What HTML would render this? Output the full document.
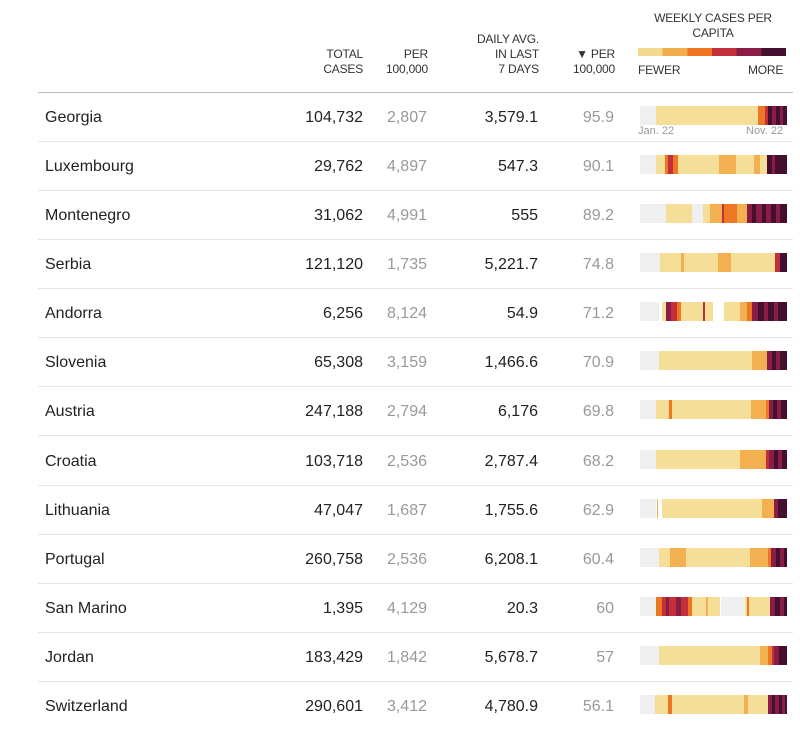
<!DOCTYPE html>
<html><head><meta charset="utf-8"><style>
body{margin:0;width:800px;height:731px;background:#fff;font-family:"Liberation Sans",Arial,sans-serif;position:relative;overflow:hidden}
.a{position:absolute}
.h{position:absolute;font-size:12px;line-height:15px;color:#333;text-align:right;letter-spacing:-0.2px}
.n{position:absolute;font-size:16px;color:#222;text-align:right;width:120px}
.g{color:#999}
.c{position:absolute;left:45px;font-size:16px;color:#222}
.ln{position:absolute;left:38px;width:755px;height:1px;background:#e6e6e6}
</style></head><body>
<div class="h" style="right:437px;top:47px">TOTAL<br>CASES</div>
<div class="h" style="right:372px;top:47px">PER<br>100,000</div>
<div class="h" style="right:261px;top:32px">DAILY AVG.<br>IN LAST<br>7 DAYS</div>
<div class="h" style="right:185px;top:47px">▼ PER<br>100,000</div>
<div class="h" style="left:632px;width:162px;text-align:center;top:11px;line-height:15px">WEEKLY CASES PER<br>CAPITA</div>
<div class="a" style="left:638px;top:48px;width:148px;height:8px;background:linear-gradient(90deg,#f3d98d 0 16.6%,#f2ad4c 16.6% 33.3%,#ee7422 33.3% 50%,#c3303c 50% 66.6%,#8a1d45 66.6% 83.3%,#45102f 83.3%)"></div>
<div class="h" style="left:638px;top:63px;text-align:left">FEWER</div>
<div class="h" style="left:748px;top:63px">MORE</div>
<div class="a" style="left:38px;top:92px;width:755px;height:1px;background:#bbb"></div>
<div class="a" style="left:638px;top:125px;font-size:11px;color:#999">Jan. 22</div>
<div class="a" style="left:746px;top:125px;font-size:11px;color:#999">Nov. 22</div>
<div id="rows"></div>
<script>
var Y='#f5de98',O='#f2b050',R='#ee7724',D='#c3303c',M='#8a1d45',P='#45102f',G='#efefef',W='#fff';
var rows=[
["Georgia","104,732","2,807","3,579.1","95.9",[[640,G],[656,Y],[758,R],[765,D],[768,P],[772,M],[776,P],[780,M],[783,P]]],
["Luxembourg","29,762","4,897","547.3","90.1",[[640,G],[656,Y],[665,R],[668,D],[673,R],[678,Y],[719,O],[736,Y],[754,O],[760,Y],[767,P],[772,M],[775,P]]],
["Montenegro","31,062","4,991","555","89.2",[[640,G],[666,Y],[692,G],[703,Y],[710,O],[722,D],[724,R],[737,O],[747,M],[752,P],[756,M],[762,P],[766,M],[771,P],[776,M],[780,P]]],
["Serbia","121,120","1,735","5,221.7","74.8",[[640,G],[660,Y],[681,O],[684,Y],[718,O],[731,Y],[775,D],[780,P]]],
["Andorra","6,256","8,124","54.9","71.2",[[640,G],[659,W],[662,Y],[666,M],[671,D],[677,R],[681,Y],[703,D],[705,Y],[713,W],[724,Y],[740,O],[747,R],[752,M],[758,P],[764,M],[768,P],[774,M],[778,P]]],
["Slovenia","65,308","3,159","1,466.6","70.9",[[640,G],[659,Y],[752,O],[767,M],[772,P],[776,M],[780,P]]],
["Austria","247,188","2,794","6,176","69.8",[[640,G],[656,Y],[669,R],[672,Y],[751,O],[766,R],[769,M],[773,P],[777,M],[781,P]]],
["Croatia","103,718","2,536","2,787.4","68.2",[[640,G],[656,Y],[740,O],[766,D],[769,M],[774,P],[778,M],[782,P]]],
["Lithuania","47,047","1,687","1,755.6","62.9",[[640,G],[656,W],[657,O],[658,W],[662,Y],[762,O],[774,M],[778,P]]],
["Portugal","260,758","2,536","6,208.1","60.4",[[640,G],[659,Y],[670,O],[686,Y],[750,O],[768,R],[771,M],[776,P],[780,M],[784,P]]],
["San Marino","1,395","4,129","20.3","60",[[640,G],[656,R],[662,D],[666,M],[669,D],[676,M],[681,D],[688,R],[692,Y],[706,O],[708,Y],[720,W],[721,G],[745,Y],[747,R],[749,Y],[770,M],[775,P],[780,M],[784,P]]],
["Jordan","183,429","1,842","5,678.7","57",[[640,G],[659,Y],[760,O],[768,R],[772,D],[774,M],[779,P]]],
["Switzerland","290,601","3,412","4,780.9","56.1",[[640,G],[655,Y],[668,R],[672,Y],[744,O],[748,Y],[768,M],[772,P],[775,M],[779,P],[782,M],[785,P]]]
];
var h='';
rows.forEach(function(r,i){
 var t=92+i*49.08;
 var ty=t+17;
 h+='<div class="c" style="top:'+ty+'px">'+r[0]+'</div>';
 h+='<div class="n" style="left:243px;top:'+ty+'px">'+r[1]+'</div>';
 h+='<div class="n g" style="left:307px;top:'+ty+'px">'+r[2]+'</div>';
 h+='<div class="n" style="left:418px;top:'+ty+'px">'+r[3]+'</div>';
 h+='<div class="n g" style="left:494px;top:'+ty+'px">'+r[4]+'</div>';
 var s=r[5];
 for(var k=0;k<s.length;k++){var x0=s[k][0],x1=k+1<s.length?s[k+1][0]:787;
  h+='<div class="a" style="left:'+x0+'px;top:'+(t+14)+'px;width:'+(x1-x0)+'px;height:19px;background:'+s[k][1]+'"></div>';}
 if(i<12)h+='<div class="ln" style="top:'+Math.round(t+49)+'px"></div>';
});
document.getElementById('rows').innerHTML=h;
</script>
</body></html>
